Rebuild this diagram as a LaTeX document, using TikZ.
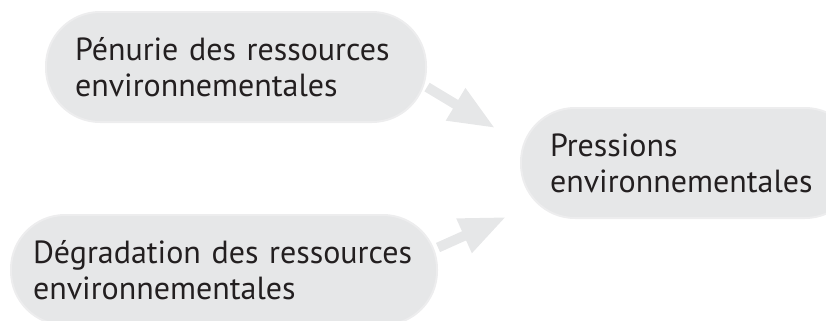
\documentclass[tikz,border=0pt]{standalone}
\usepackage{fontspec}
\setmainfont{PT Sans}
\usetikzlibrary{arrows.meta}
\definecolor{pillgray}{HTML}{E6E7E8}
\definecolor{rimgray}{HTML}{EDEDEE}
\definecolor{inkgray}{HTML}{231F20}

\begin{document}
\begin{tikzpicture}[x=1bp,y=-1bp,
	pill/.style={rectangle,rounded corners=54bp,fill=pillgray,draw=rimgray,line width=2bp,
		minimum height=110bp,inner xsep=29bp,align=left,text=inkgray,
		font=\fontsize{32bp}{36bp}\selectfont},
	flow/.style={draw=pillgray,line width=10bp,-{Triangle[length=46bp,width=35bp]}}]
	\useasboundingbox (0,0) rectangle (826,320);
	%arrow tips
	\coordinate (tipA) at (495,128);
	\coordinate (tipB) at (506,217);
	%pills
	\node[pill,anchor=west,text width=322bp] (penurie) at (45,67) {Pénurie des ressources\\environnementales};
	\node[pill,anchor=west,inner xsep=22bp,text width=382bp] (degradation) at (10,270) {Dégradation des ressources\\environnementales};
	\node[pill,anchor=west,text width=280bp] (pressions) at (520,163) {Pressions\\environnementales};
	%arrows
	\draw[flow] (penurie.-6) -- (tipA);		%penurie--pressions
	\draw[flow] (degradation.6) -- (tipB);	%degradation--pressions
\end{tikzpicture}
\end{document}
